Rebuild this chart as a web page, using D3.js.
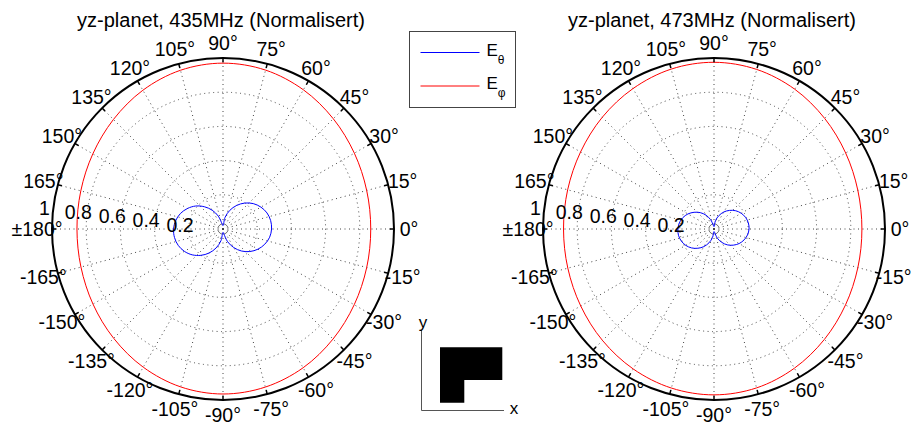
<!DOCTYPE html>
<html>
<head>
<meta charset="utf-8">
<script src="https://cdn.jsdelivr.net/npm/d3@7"></script>
<style>
  body { margin: 0; background: #fff; }
  svg { display: block; }
  text { font-family: "Liberation Sans", Arial, Helvetica, sans-serif; fill: #000; }
</style>
</head>
<body>
<svg id="chart" width="913" height="425"></svg>
<script>
// ---- data -------------------------------------------------------------
const plotTitles = ["yz-planet, 435MHz (Normalisert)", "yz-planet, 473MHz (Normalisert)"];

// E_phi sampled every 15 degrees (normalised)
const phiAngles = [0, 15, 30, 45, 60, 75, 90, 105, 120, 135, 150, 165,
                   180, 195, 210, 225, 240, 255, 270, 285, 300, 315, 330, 345];
const ePhi435 = [0.864, 0.870, 0.887, 0.912, 0.940, 0.962, 0.970, 0.961, 0.937, 0.906, 0.879, 0.861,
                 0.854, 0.860, 0.878, 0.904, 0.933, 0.956, 0.965, 0.957, 0.937, 0.910, 0.886, 0.870];
const ePhi473 = [0.865, 0.871, 0.889, 0.915, 0.944, 0.966, 0.975, 0.968, 0.948, 0.924, 0.901, 0.886,
                 0.880, 0.885, 0.900, 0.922, 0.945, 0.963, 0.970, 0.962, 0.940, 0.913, 0.888, 0.871];

// E_theta sampled every 10 degrees (normalised)
const thetaAngles = [0, 10, 20, 30, 40, 50, 60, 70, 80, 90, 100, 110, 120, 130, 140, 150, 160, 170,
                     180, 190, 200, 210, 220, 230, 240, 250, 260, 270, 280, 290, 300, 310, 320, 330, 340, 350];
const eTheta435 = [0.284, 0.283, 0.274, 0.256, 0.231, 0.198, 0.159, 0.116, 0.069, 0.020,
                   0.030, 0.080, 0.127, 0.170, 0.209, 0.240, 0.265, 0.281, 0.289, 0.288,
                   0.279, 0.261, 0.235, 0.201, 0.162, 0.118, 0.070, 0.020, 0.030, 0.079,
                   0.125, 0.168, 0.205, 0.236, 0.260, 0.277];
const eTheta473 = [0.205, 0.204, 0.197, 0.184, 0.166, 0.142, 0.115, 0.083, 0.050, 0.014,
                   0.022, 0.058, 0.093, 0.125, 0.152, 0.176, 0.194, 0.206, 0.211, 0.211,
                   0.204, 0.191, 0.172, 0.147, 0.119, 0.086, 0.051, 0.015, 0.021, 0.057,
                   0.090, 0.121, 0.147, 0.170, 0.187, 0.199];

// grid and labels
const ringValues = [0.2, 0.4, 0.6, 0.8];
const ringLabels = ["0.2", "0.4", "0.6", "0.8", "1"];
const ringLabelValues = [0.2, 0.4, 0.6, 0.8, 1];
const spokeAngles = [0, 15, 30, 45, 60, 75, 90, 105, 120, 135, 150, 165,
                     180, 195, 210, 225, 240, 255, 270, 285, 300, 315, 330, 345];
const angleLabels = ["0°", "15°", "30°", "45°", "60°", "75°", "90°", "105°", "120°", "135°", "150°", "165°",
                     "±180°", "-165°", "-150°", "-135°", "-120°", "-105°", "-90°", "-75°", "-60°", "-45°", "-30°", "-15°"];
const legendLabels = [{ main: "E", sub: "θ" }, { main: "E", sub: "φ" }];

// ---- drawing ----------------------------------------------------------
const svg = d3.select("#chart");
svg.append("rect").attr("width", 913).attr("height", 425).attr("fill", "#fff");

const R = 171;
const rScale = d3.scaleLinear().domain([0, 1]).range([0, R]);
const rad = d => d * Math.PI / 180;
const polarX = (deg, v) => rScale(v) * Math.cos(rad(deg));
const polarY = (deg, v) => -rScale(v) * Math.sin(rad(deg));

const radialLine = d3.lineRadial()
  .angle(d => rad(90 - d.a))
  .radius(d => rScale(d.v))
  .curve(d3.curveCatmullRomClosed.alpha(0.5));

const panels = [
  { cx: 223, cy: 229, title: plotTitles[0], phi: ePhi435, theta: eTheta435 },
  { cx: 714, cy: 229, title: plotTitles[1], phi: ePhi473, theta: eTheta473 }
];

panels.forEach(p => {
  const g = svg.append("g").attr("transform", `translate(${p.cx},${p.cy})`);

  // dotted rings
  g.selectAll("circle.ring").data(ringValues).join("circle")
    .attr("class", "ring")
    .attr("r", d => rScale(d))
    .attr("fill", "none")
    .attr("stroke", "#444")
    .attr("stroke-width", 1)
    .attr("stroke-dasharray", "1,3.5");

  // dotted spokes
  g.selectAll("line.spoke").data(spokeAngles).join("line")
    .attr("class", "spoke")
    .attr("x1", 0).attr("y1", 0)
    .attr("x2", d => polarX(d, 1)).attr("y2", d => polarY(d, 1))
    .attr("stroke", "#444")
    .attr("stroke-width", 1)
    .attr("stroke-dasharray", "1,3.5");

  // patterns
  const phiData = phiAngles.map((a, i) => ({ a, v: p.phi[i] }));
  const thetaData = thetaAngles.map((a, i) => ({ a, v: p.theta[i] }));
  g.append("path").attr("d", radialLine(phiData))
    .attr("fill", "none").attr("stroke", "#ff0000").attr("stroke-width", 1);
  g.append("path").attr("d", radialLine(thetaData))
    .attr("fill", "none").attr("stroke", "#0000ff").attr("stroke-width", 1);

  // outer ring with ticks
  g.append("circle").attr("r", rScale(1))
    .attr("fill", "none").attr("stroke", "#000").attr("stroke-width", 2);
  g.selectAll("line.tick").data(spokeAngles).join("line")
    .attr("class", "tick")
    .attr("x1", d => polarX(d, 1)).attr("y1", d => polarY(d, 1))
    .attr("x2", d => polarX(d, 0.975)).attr("y2", d => polarY(d, 0.975))
    .attr("stroke", "#000").attr("stroke-width", 1.5);

  // radial labels
  g.selectAll("text.rlab").data(ringLabelValues).join("text")
    .attr("class", "rlab")
    .attr("x", d => polarX(172.8, d) - 9)
    .attr("y", d => polarY(172.8, d))
    .attr("text-anchor", "middle")
    .attr("dominant-baseline", "central")
    .attr("font-size", 19.5)
    .text((d, i) => ringLabels[i]);

  // angle labels
  g.selectAll("text.alab").data(spokeAngles).join("text")
    .attr("class", "alab")
    .attr("x", d => polarX(d, 186 / R))
    .attr("y", d => polarY(d, 186 / R))
    .attr("text-anchor", "middle")
    .attr("dominant-baseline", "central")
    .attr("font-size", 19.5)
    .text((d, i) => angleLabels[i]);

  // title
  svg.append("text")
    .attr("x", p.cx - 2).attr("y", 27)
    .attr("text-anchor", "middle")
    .attr("font-size", 20)
    .text(p.title);
});

// legend
const lg = svg.append("g").attr("transform", "translate(409.5,31.5)");
lg.append("rect").attr("width", 106).attr("height", 76)
  .attr("fill", "#fff").attr("stroke", "#444").attr("stroke-width", 1);
const legendColors = ["#0000ff", "#ff0000"];
legendLabels.forEach((d, i) => {
  const y = 21 + i * 33.5;
  lg.append("line").attr("x1", 11).attr("x2", 70).attr("y1", y).attr("y2", y)
    .attr("stroke", legendColors[i]).attr("stroke-width", 1);
  const t = lg.append("text").attr("x", 77).attr("y", y + 3).attr("font-size", 17);
  t.append("tspan").text(d.main);
  t.append("tspan").attr("dy", 8).attr("font-size", 12).text(d.sub);
});

// coordinate inset: y/x axes with the board outline
const inset = svg.append("g");
inset.append("path")
  .attr("d", "M421.5,330 V410.5 H504")
  .attr("fill", "none").attr("stroke", "#555").attr("stroke-width", 1);
inset.append("text").attr("x", 423).attr("y", 328).attr("text-anchor", "middle")
  .attr("font-size", 17).text("y");
inset.append("text").attr("x", 514).attr("y", 414).attr("text-anchor", "middle")
  .attr("font-size", 17).text("x");
inset.append("path")
  .attr("d", "M440,347.3 H502.3 V380 H464.3 V402.7 H440 Z")
  .attr("fill", "#000");
</script>
</body>
</html>
